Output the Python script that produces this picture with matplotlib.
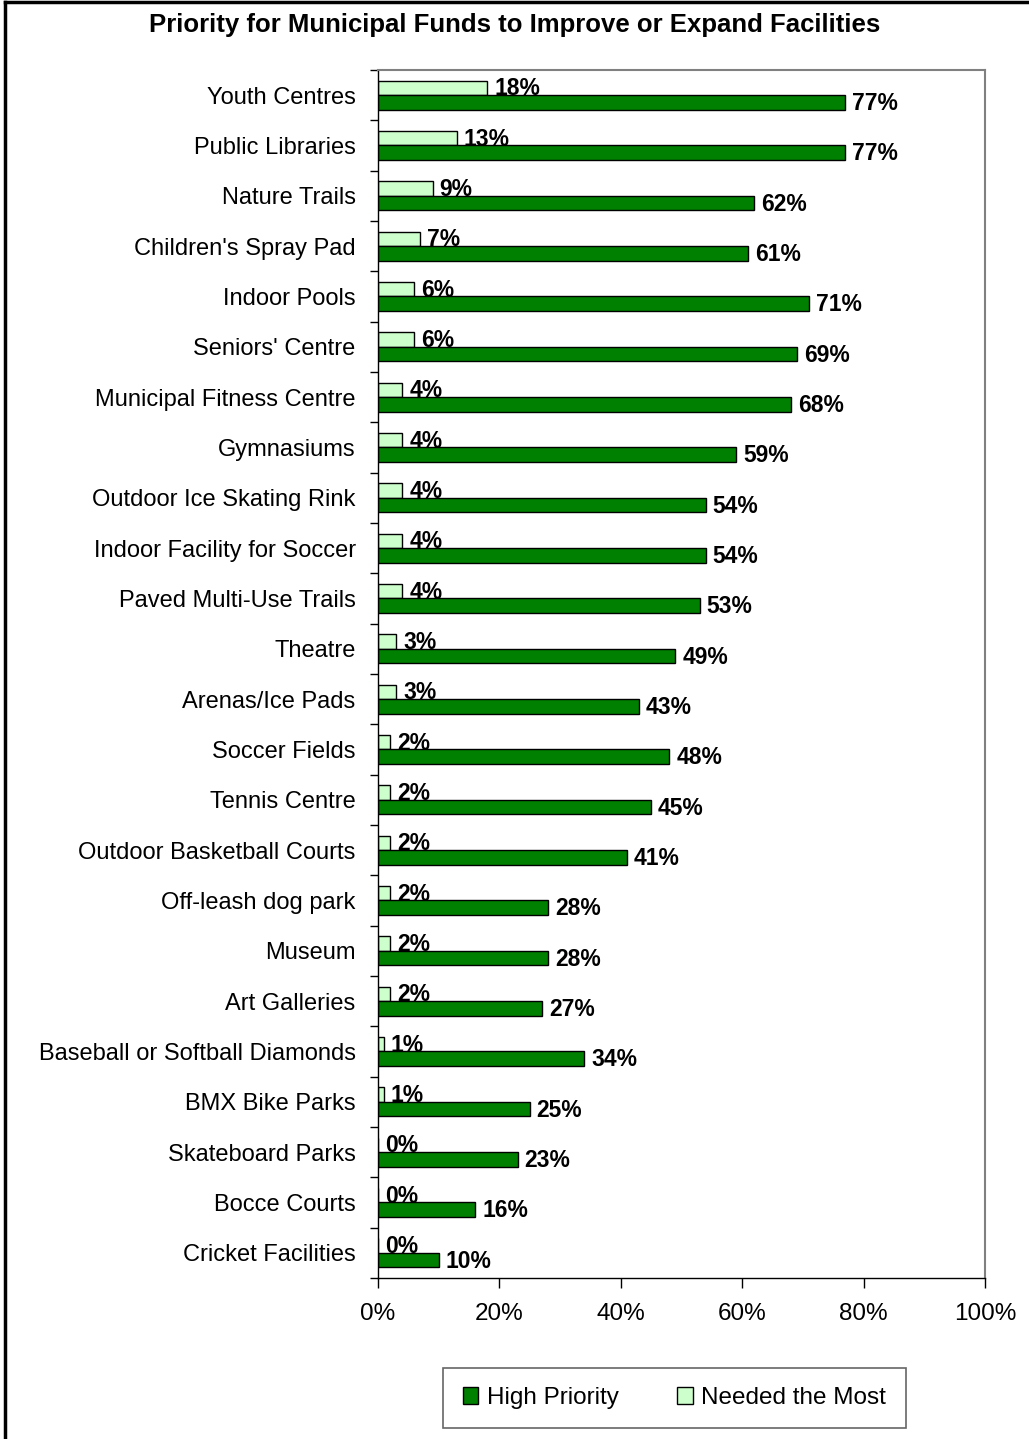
import numpy as np
import matplotlib
matplotlib.use("Agg")
import matplotlib.pyplot as plt
from matplotlib.lines import Line2D
from matplotlib.patches import Patch

plt.rcParams['font.family'] = ['Liberation Sans', 'DejaVu Sans']

#facilities, top to bottom
facilities = ["Youth Centres", "Public Libraries", "Nature Trails", "Children's Spray Pad",
              "Indoor Pools", "Seniors' Centre", "Municipal Fitness Centre", "Gymnasiums",
              "Outdoor Ice Skating Rink", "Indoor Facility for Soccer", "Paved Multi-Use Trails",
              "Theatre", "Arenas/Ice Pads", "Soccer Fields", "Tennis Centre",
              "Outdoor Basketball Courts", "Off-leash dog park", "Museum", "Art Galleries",
              "Baseball or Softball Diamonds", "BMX Bike Parks", "Skateboard Parks",
              "Bocce Courts", "Cricket Facilities"]
needed_most = [18, 13, 9, 7, 6, 6, 4, 4, 4, 4, 4, 3, 3, 2, 2, 2, 2, 2, 2, 1, 1, 0, 0, 0]
high_priority = [77, 77, 62, 61, 71, 69, 68, 59, 54, 54, 53, 49, 43, 48, 45, 41, 28, 28, 27, 34, 25, 23, 16, 10]
xticks = [0, 20, 40, 60, 80, 100]

dark_green = "#008000"
light_green = "#CCFFCC"

fig = plt.figure(figsize=(10.29, 14.39), dpi=100)
ax = fig.add_axes([0.3673, 0.1119, 0.5899, 0.8395])

n = len(facilities)
ypos = np.arange(n)
h = 0.29
ax.barh(ypos - h/2, needed_most, height=h, color=light_green, edgecolor="black", linewidth=1.0)
ax.barh(ypos + h/2, high_priority, height=h, color=dark_green, edgecolor="black", linewidth=1.0)

for y, v in zip(ypos, needed_most):
    ax.annotate(f"{v}%", (v, y - h/2 + 0.02), xytext=(5, 0), textcoords="offset points",
                va="center", ha="left", fontsize=16.5, fontweight="bold")
for y, v in zip(ypos, high_priority):
    ax.annotate(f"{v}%", (v, y + h/2 + 0.02), xytext=(5, 0), textcoords="offset points",
                va="center", ha="left", fontsize=16.5, fontweight="bold")

ax.set_xlim(0, 100)
ax.set_ylim(n - 0.5, -0.5)
ax.set_xticks(xticks)
ax.set_xticklabels([f"{t}%" for t in xticks], fontsize=17.5)
ax.set_yticks(ypos)
ax.set_yticklabels(facilities, fontsize=17)
ax.set_yticks(np.arange(n + 1) - 0.5, minor=True)
ax.tick_params(axis="y", which="major", length=0, pad=16)
ax.tick_params(axis="y", which="minor", length=6, width=1, direction="out")
ax.tick_params(axis="x", length=7, width=1, direction="out", pad=11)

for s in ["top", "right"]:
    ax.spines[s].set_color("#808080")
    ax.spines[s].set_linewidth(1.5)
for s in ["left", "bottom"]:
    ax.spines[s].set_color("black")
    ax.spines[s].set_linewidth(1.0)

fig.text(0.5, 0.9826, "Priority for Municipal Funds to Improve or Expand Facilities",
         ha="center", va="center", fontsize=18.5, fontweight="bold")

handles = [Patch(facecolor=dark_green, edgecolor="black", label="High Priority"),
           Patch(facecolor=light_green, edgecolor="black", label="Needed the Most")]
leg = fig.legend(handles=handles, loc="center", bbox_to_anchor=(0.6555, 0.0285), ncol=2,
                 fontsize=17.5, frameon=True, fancybox=False, handlelength=0.65,
                 handleheight=0.65, handletextpad=0.35, columnspacing=2.4,
                 borderpad=0.8, borderaxespad=0)
leg.get_frame().set_edgecolor("#404040")
leg.get_frame().set_linewidth(1.2)

#outer frame lines
fig.add_artist(Line2D([5/1029, 1], [1 - 2/1439, 1 - 2/1439], color="black", linewidth=2.5))
fig.add_artist(Line2D([5/1029, 5/1029], [0, 1 - 2/1439], color="black", linewidth=2.5))

fig.savefig("out.png", dpi=100)
